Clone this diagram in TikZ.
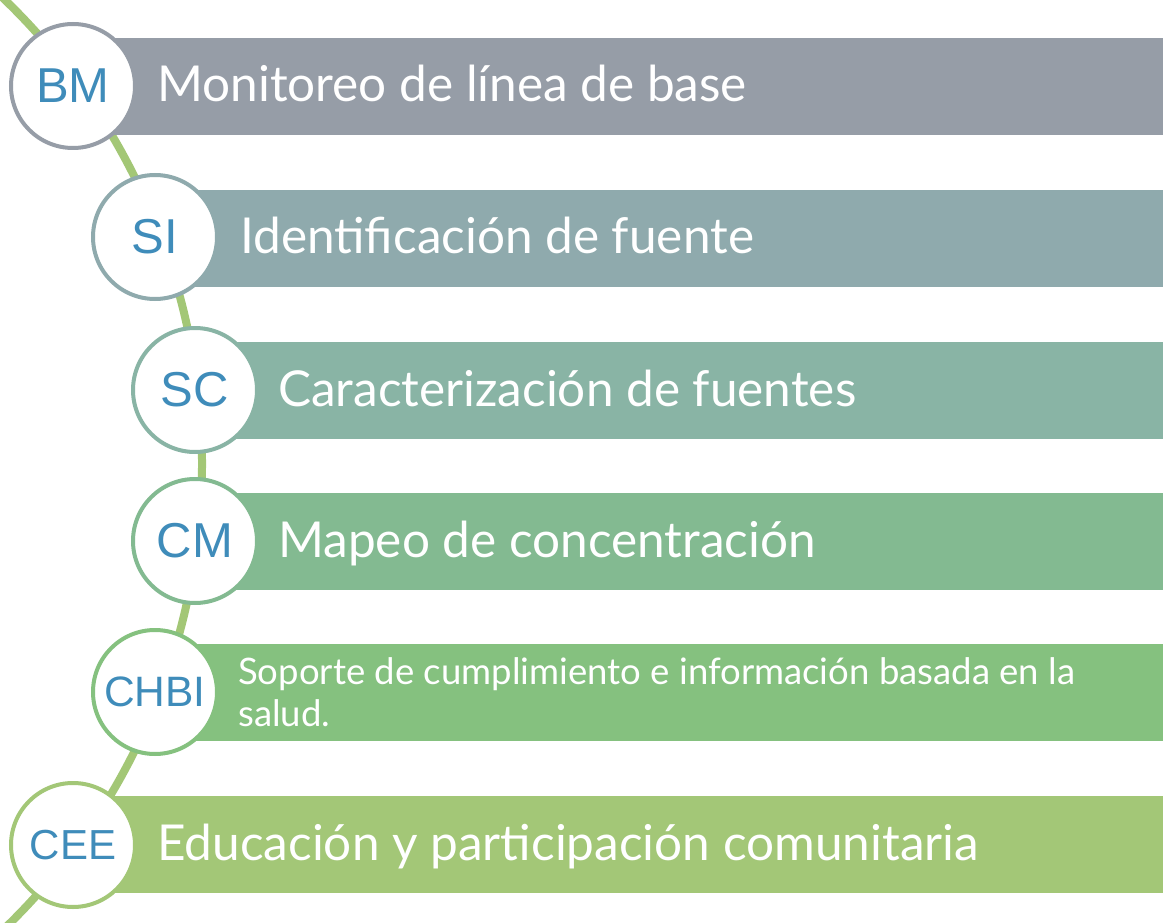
\documentclass[tikz,border=0pt]{standalone}
\usepackage{fontspec}
\usepackage{xcolor}
\usetikzlibrary{positioning}
\setmainfont{Lato}
\newfontfamily\circfont{Liberation Sans}
\definecolor{bmgray}{HTML}{969DA7}
\definecolor{sigray}{HTML}{8FAAAD}
\definecolor{scgreen}{HTML}{89B4A5}
\definecolor{cmgreen}{HTML}{83BA91}
\definecolor{chbigreen}{HTML}{85C17F}
\definecolor{ceegreen}{HTML}{A3C777}
\definecolor{spinegreen}{HTML}{A3C776}
\definecolor{codeblue}{HTML}{3F8CBA}
\tikzstyle{stage} = [circle, draw, line width=4pt, fill=white, minimum size=124pt, inner sep=0pt, text=codeblue, font=\circfont\fontsize{49}{55}\selectfont]
\tikzstyle{bar} = [anchor=west, minimum width=1100pt, minimum height=97pt, inner sep=0pt, outer sep=0pt]
\tikzstyle{caption} = [anchor=base west, inner sep=0pt, text=white, font=\fontsize{49.5}{55}\selectfont]
\tikzstyle{spine} = [line width=8pt, spinegreen]

\begin{document}
\begin{tikzpicture}[x=1pt,y=-1pt]
\useasboundingbox (0,0) rectangle (1163,923);
\clip (0,0) rectangle (1163,923);
% green spine behind the stages
\coordinate (hub) at (-443,464);
\draw[spine] (hub) ++(-50:645) arc[start angle=-50, end angle=50, radius=645];
% bars
\node[bar, fill=bmgray] (bmbar) at (73,86.5) {};
\node[bar, fill=sigray] (sibar) at (155,238.5) {};
\node[bar, fill=scgreen] (scbar) at (195,390) {};
\node[bar, fill=cmgreen] (cmbar) at (195,541.5) {};
\node[bar, fill=chbigreen] (chbibar) at (155,692.5) {};
\node[bar, fill=ceegreen] (ceebar) at (73,844.5) {};
% stages
\node[stage, draw=bmgray] (bm) at (73,86) {BM};
\node[stage, draw=sigray] (si) at (155,237) {SI};
\node[stage, draw=scgreen] (sc) at (195,390) {SC};
\node[stage, draw=cmgreen] (cm) at (195,541) {CM};
\node[stage, draw=chbigreen, font=\circfont\fontsize{42.5}{48}\selectfont] (chbi) at (155,692) {CHBI};
\node[stage, draw=ceegreen, font=\circfont\fontsize{42}{48}\selectfont] (cee) at (73,845) {CEE};
% captions
\node[caption] (bmtext) at (157,102) {Monitoreo de línea de base};
\node[caption] (sitext) at (240,254) {Identificación de fuente};
\node[caption] (sctext) at (278,406) {Caracterización de fuentes};
\node[caption] (cmtext) at (278,557) {Mapeo de concentración};
\node[caption, anchor=west, align=left, font=\fontsize{36.5}{42}\selectfont] (chbitext) at (238,692) {Soporte de cumplimiento e información basada en la\\salud.};
\node[caption] (ceetext) at (157,860) {Educación y participación comunitaria};
\end{tikzpicture}
\end{document}
